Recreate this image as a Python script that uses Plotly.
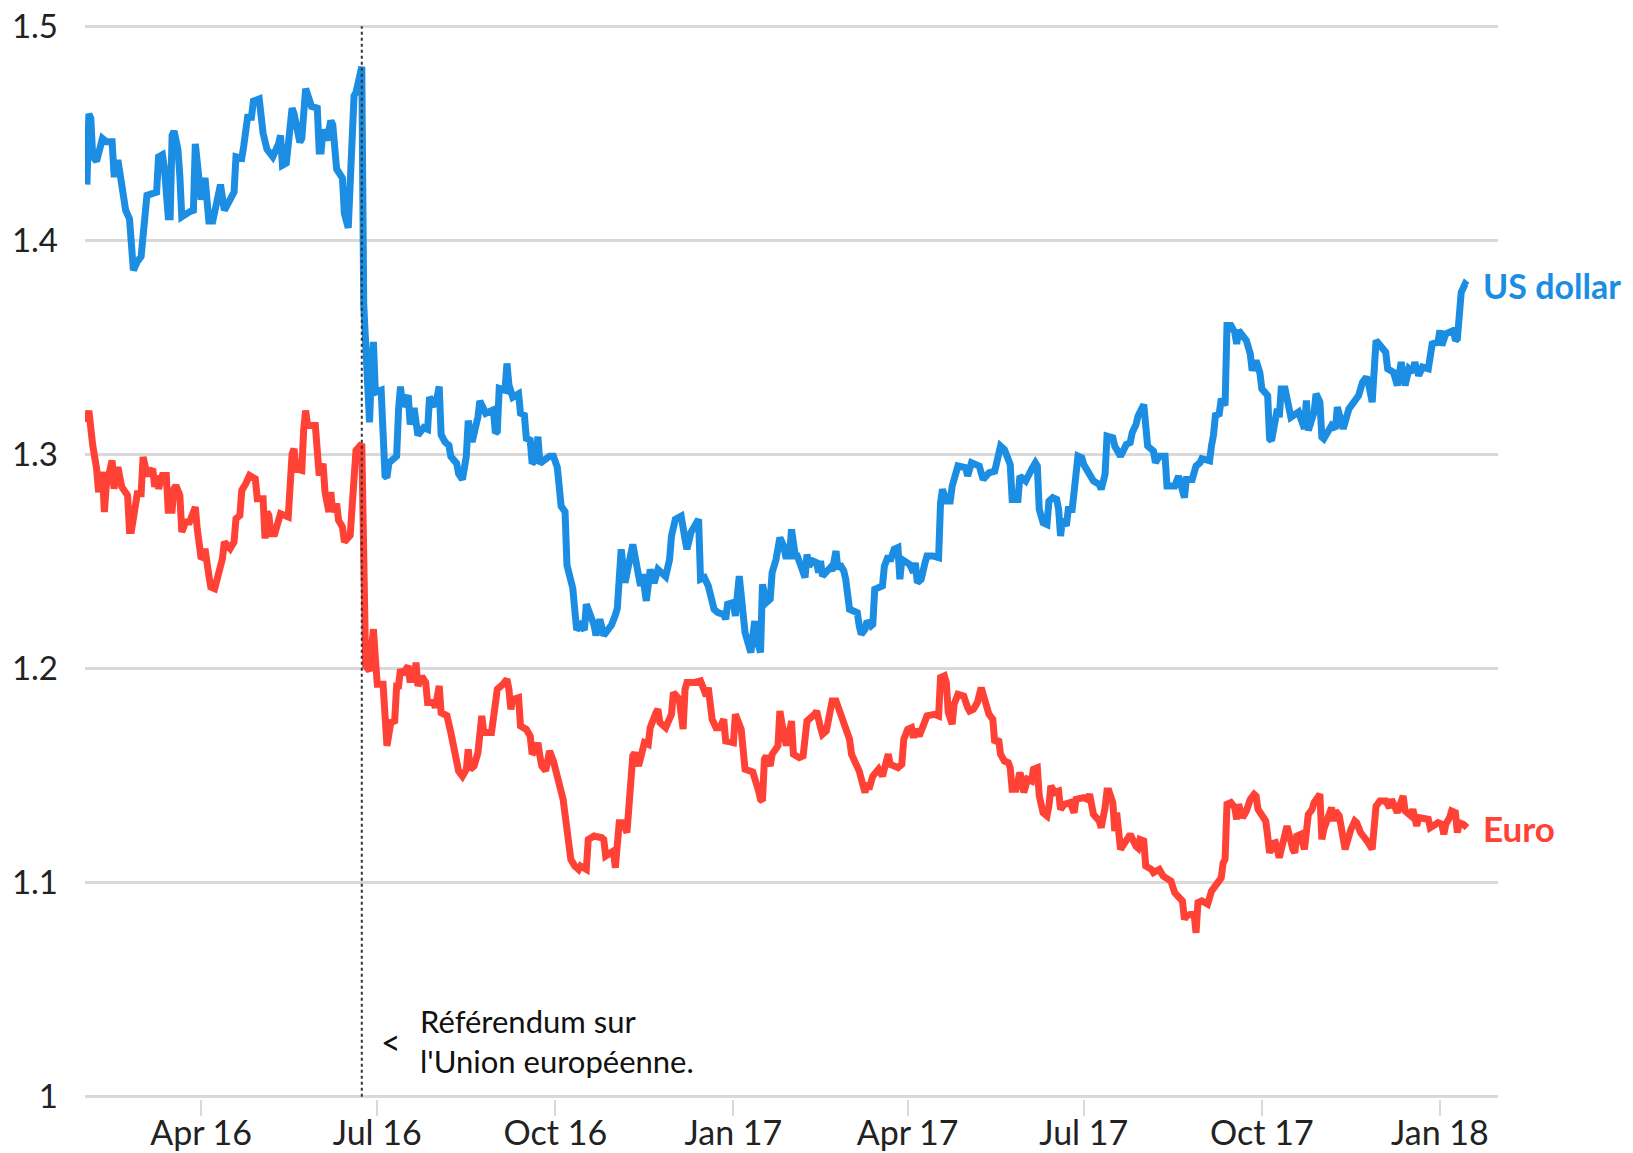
import plotly.graph_objects as go

usd_dates = [
"2016-02-02","2016-02-03","2016-02-04","2016-02-05","2016-02-07","2016-02-10","2016-02-12","2016-02-15","2016-02-16","2016-02-17",
"2016-02-18","2016-02-20","2016-02-22","2016-02-24","2016-02-25","2016-02-26","2016-02-28","2016-03-01","2016-03-04","2016-03-08",
"2016-03-09","2016-03-10","2016-03-12","2016-03-13","2016-03-15","2016-03-16","2016-03-17","2016-03-18","2016-03-20","2016-03-21",
"2016-03-22","2016-03-26","2016-03-28","2016-03-29","2016-04-01","2016-04-03","2016-04-05","2016-04-07","2016-04-09","2016-04-11",
"2016-04-13","2016-04-16","2016-04-18","2016-04-19","2016-04-22","2016-04-23","2016-04-25","2016-04-27","2016-04-28","2016-05-01",
"2016-05-03","2016-05-05","2016-05-08","2016-05-11","2016-05-12","2016-05-13","2016-05-15","2016-05-18","2016-05-19","2016-05-22",
"2016-05-23","2016-05-25","2016-05-28","2016-05-31","2016-06-01","2016-06-02","2016-06-03","2016-06-05","2016-06-07","2016-06-08",
"2016-06-10","2016-06-13","2016-06-14","2016-06-16","2016-06-17","2016-06-19","2016-06-20","2016-06-22","2016-06-23","2016-06-24",
"2016-06-26","2016-06-27","2016-06-28","2016-06-29","2016-06-30","2016-07-03","2016-07-05","2016-07-06","2016-07-07","2016-07-11",
"2016-07-12","2016-07-13","2016-07-14","2016-07-17","2016-07-18","2016-07-20","2016-07-22","2016-07-25","2016-07-27","2016-07-28",
"2016-07-31","2016-08-02","2016-08-03","2016-08-05","2016-08-07","2016-08-08","2016-08-11","2016-08-12","2016-08-14","2016-08-16",
"2016-08-17","2016-08-19","2016-08-22","2016-08-23","2016-08-26","2016-08-30","2016-08-31","2016-09-01","2016-09-02","2016-09-05",
"2016-09-06","2016-09-07","2016-09-09","2016-09-12","2016-09-13","2016-09-15","2016-09-16","2016-09-18","2016-09-19","2016-09-21",
"2016-09-22","2016-09-23","2016-09-28","2016-09-30","2016-10-02","2016-10-04","2016-10-06","2016-10-07","2016-10-10","2016-10-12",
"2016-10-14","2016-10-16","2016-10-17","2016-10-19","2016-10-21","2016-10-22","2016-10-24","2016-10-26","2016-10-28","2016-10-30",
"2016-11-01","2016-11-02","2016-11-04","2016-11-06","2016-11-10","2016-11-14","2016-11-15","2016-11-17","2016-11-19","2016-11-21",
"2016-11-23","2016-11-27","2016-11-29","2016-11-30","2016-12-02","2016-12-05","2016-12-07","2016-12-08","2016-12-10","2016-12-12",
"2016-12-14","2016-12-15","2016-12-17","2016-12-19","2016-12-22","2016-12-24","2016-12-27","2016-12-28","2016-12-29","2017-01-01",
"2017-01-02","2017-01-04","2017-01-05","2017-01-07","2017-01-08","2017-01-10","2017-01-12","2017-01-13","2017-01-15","2017-01-16",
"2017-01-18","2017-01-20","2017-01-21","2017-01-23","2017-01-25","2017-01-27","2017-01-28","2017-01-30","2017-01-31","2017-02-02",
"2017-02-03","2017-02-05","2017-02-07","2017-02-08","2017-02-09","2017-02-11","2017-02-13","2017-02-14","2017-02-15","2017-02-16",
"2017-02-18","2017-02-20","2017-02-21","2017-02-23","2017-02-24","2017-02-25","2017-02-27","2017-02-28","2017-03-02","2017-03-06",
"2017-03-07","2017-03-08","2017-03-10","2017-03-11","2017-03-13","2017-03-14","2017-03-15","2017-03-19","2017-03-20","2017-03-22",
"2017-03-23","2017-03-25","2017-03-27","2017-03-28","2017-03-29","2017-04-02","2017-04-04","2017-04-05","2017-04-06","2017-04-08",
"2017-04-10","2017-04-11","2017-04-14","2017-04-17","2017-04-18","2017-04-19","2017-04-21","2017-04-23","2017-04-24","2017-04-27",
"2017-05-01","2017-05-02","2017-05-04","2017-05-08","2017-05-10","2017-05-13","2017-05-16","2017-05-18","2017-05-19","2017-05-21",
"2017-05-23","2017-05-24","2017-05-25","2017-05-28","2017-05-29","2017-06-01","2017-06-04","2017-06-06","2017-06-07","2017-06-08",
"2017-06-10","2017-06-12","2017-06-13","2017-06-15","2017-06-17","2017-06-18","2017-06-19","2017-06-20","2017-06-22","2017-06-23",
"2017-06-25","2017-06-26","2017-06-28","2017-06-30","2017-07-01","2017-07-03","2017-07-06","2017-07-09","2017-07-10","2017-07-12",
"2017-07-13","2017-07-16","2017-07-17","2017-07-20","2017-07-23","2017-07-25","2017-07-26","2017-07-28","2017-07-29","2017-08-01",
"2017-08-02","2017-08-03","2017-08-06","2017-08-07","2017-08-09","2017-08-12","2017-08-13","2017-08-17","2017-08-19","2017-08-21",
"2017-08-22","2017-08-23","2017-08-26","2017-08-28","2017-08-30","2017-08-31","2017-09-04","2017-09-05","2017-09-06","2017-09-07",
"2017-09-09","2017-09-10","2017-09-12","2017-09-13","2017-09-15","2017-09-17","2017-09-18","2017-09-19","2017-09-23","2017-09-25",
"2017-09-26","2017-09-28","2017-09-30","2017-10-01","2017-10-04","2017-10-05","2017-10-06","2017-10-09","2017-10-10","2017-10-11",
"2017-10-13","2017-10-16","2017-10-18","2017-10-20","2017-10-23","2017-10-24","2017-10-25","2017-10-28","2017-10-29","2017-10-31",
"2017-11-01","2017-11-02","2017-11-06","2017-11-08","2017-11-09","2017-11-10","2017-11-12","2017-11-15","2017-11-19","2017-11-20",
"2017-11-22","2017-11-24","2017-11-25","2017-11-27","2017-11-29","2017-12-02","2017-12-04","2017-12-05","2017-12-08","2017-12-10",
"2017-12-12","2017-12-14","2017-12-16","2017-12-18","2017-12-19","2017-12-21","2017-12-23","2017-12-26","2017-12-28","2017-12-31",
"2018-01-01","2018-01-02","2018-01-04","2018-01-08","2018-01-09","2018-01-10","2018-01-11","2018-01-12","2018-01-14","2018-01-15",
]
usd_values = [
1.426,1.459,1.457,1.439,1.437,1.4475,1.446,1.446,1.431,1.431,
1.4375,1.4225,1.414,1.41,1.394,1.386,1.39,1.3925,1.421,1.4217,
1.4225,1.439,1.44,1.434,1.411,1.411,1.449,1.451,1.4425,1.43,
1.411,1.4133,1.414,1.445,1.419,1.4292,1.409,1.409,1.419,1.426,
1.414,1.4195,1.4225,1.439,1.4383,1.444,1.4575,1.4575,1.465,1.466,
1.45,1.4425,1.439,1.445,1.449,1.435,1.436,1.4617,1.459,1.4458,
1.4475,1.4708,1.4625,1.4617,1.4417,1.4417,1.4517,1.4467,1.4558,1.454,
1.4333,1.429,1.4125,1.4058,1.4233,1.4675,1.469,1.48,1.481,1.37,
1.3225,1.315,1.339,1.3525,1.329,1.33,1.29,1.2892,1.296,1.2992,
1.321,1.3317,1.3225,1.3275,1.314,1.3217,1.309,1.3125,1.3117,1.3267,
1.3225,1.3317,1.3092,1.3058,1.3042,1.299,1.2958,1.291,1.2883,1.2992,
1.3158,1.3058,1.3175,1.325,1.3192,1.3208,1.31,1.3108,1.3308,1.33,
1.3425,1.3325,1.3267,1.3283,1.3192,1.3183,1.3075,1.3067,1.2958,1.2975,
1.3083,1.2958,1.2992,1.2992,1.294,1.2758,1.2733,1.2483,1.2375,1.218,
1.2203,1.218,1.23,1.2255,1.2203,1.2155,1.223,1.2155,1.218,1.2203,
1.225,1.228,1.2557,1.2401,1.258,1.2386,1.244,1.2316,1.2463,1.24,
1.2463,1.243,1.251,1.2619,1.2697,1.2712,1.2603,1.2557,1.2635,1.2666,
1.2697,1.2417,1.2425,1.2386,1.2277,1.2261,1.2253,1.223,1.23,1.2308,
1.2246,1.2432,1.2308,1.2168,1.2137,1.2075,1.2222,1.2137,1.2075,1.2393,
1.2308,1.2324,1.2448,1.251,1.2611,1.2572,1.2526,1.2526,1.265,1.2526,
1.2526,1.2463,1.2425,1.2533,1.2479,1.2502,1.2494,1.2448,1.2502,1.2432,
1.2456,1.2471,1.2456,1.2549,1.2463,1.2487,1.2456,1.2417,1.2277,1.2261,
1.2199,1.216,1.2184,1.2222,1.2199,1.2207,1.237,1.2386,1.2479,1.2526,
1.2502,1.2557,1.2565,1.2417,1.251,1.2487,1.2448,1.2494,1.2401,1.2417,
1.2495,1.2526,1.2526,1.2518,1.2774,1.2837,1.2782,1.2782,1.2852,1.2946,
1.2938,1.2899,1.2961,1.2946,1.2883,1.2914,1.2922,1.3023,1.3039,1.3023,
1.2961,1.2953,1.279,1.279,1.2899,1.2876,1.293,1.2961,1.2946,1.2743,
1.2681,1.2673,1.2782,1.2798,1.279,1.2743,1.2619,1.2697,1.2666,1.2743,
1.2743,1.2837,1.2992,1.2984,1.2953,1.2922,1.2876,1.286,1.2837,1.2907,
1.3086,1.3078,1.3039,1.2992,1.3047,1.3055,1.3101,1.314,1.3179,1.3233,
1.3163,1.3039,1.3016,1.2961,1.2992,1.2992,1.2852,1.2852,1.2899,1.2837,
1.2798,1.2883,1.2883,1.2946,1.2961,1.298,1.297,1.3042,1.3089,1.3182,
1.319,1.326,1.3229,1.3602,1.3602,1.3571,1.3516,1.3579,1.3532,1.347,
1.3392,1.3439,1.338,1.3306,1.3275,1.3073,1.3065,1.3213,1.3174,1.3306,
1.3306,1.3174,1.319,1.3198,1.312,1.3252,1.3112,1.3198,1.3283,1.3244,
1.3081,1.3073,1.3135,1.312,1.3221,1.319,1.312,1.3213,1.326,1.3275,
1.3337,1.3361,1.3337,1.3244,1.3532,1.3493,1.3477,1.34,1.3384,1.3322,
1.3431,1.3322,1.34,1.3384,1.3431,1.3369,1.3408,1.34,1.3516,1.3524,
1.3579,1.3509,1.3563,1.3579,1.3532,1.354,1.3687,1.3757,1.3796,1.3788,
]

eur_dates = [
"2016-02-02","2016-02-03","2016-02-05","2016-02-07","2016-02-08","2016-02-10","2016-02-11","2016-02-12","2016-02-15","2016-02-16",
"2016-02-18","2016-02-20","2016-02-23","2016-02-24","2016-02-25","2016-02-27","2016-02-28","2016-03-01","2016-03-02","2016-03-04",
"2016-03-05","2016-03-07","2016-03-08","2016-03-09","2016-03-10","2016-03-12","2016-03-14","2016-03-15","2016-03-17","2016-03-18",
"2016-03-19","2016-03-21","2016-03-22","2016-03-24","2016-03-26","2016-03-28","2016-03-29","2016-03-30","2016-04-01","2016-04-02",
"2016-04-03","2016-04-05","2016-04-06","2016-04-08","2016-04-10","2016-04-12","2016-04-13","2016-04-16","2016-04-18","2016-04-19",
"2016-04-21","2016-04-22","2016-04-24","2016-04-26","2016-04-29","2016-04-30","2016-05-03","2016-05-04","2016-05-05","2016-05-06",
"2016-05-07","2016-05-09","2016-05-12","2016-05-16","2016-05-18","2016-05-19","2016-05-20","2016-05-23","2016-05-24","2016-05-25",
"2016-05-26","2016-05-30","2016-06-01","2016-06-03","2016-06-04","2016-06-06","2016-06-07","2016-06-08","2016-06-10","2016-06-11",
"2016-06-13","2016-06-14","2016-06-17","2016-06-18","2016-06-20","2016-06-23","2016-06-24","2016-06-25","2016-06-27","2016-06-29",
"2016-06-30","2016-07-01","2016-07-04","2016-07-05","2016-07-06","2016-07-08","2016-07-10","2016-07-11","2016-07-12","2016-07-13",
"2016-07-14","2016-07-17","2016-07-18","2016-07-19","2016-07-20","2016-07-21","2016-07-22","2016-07-24","2016-07-26","2016-07-27",
"2016-07-30","2016-07-31","2016-08-02","2016-08-03","2016-08-06","2016-08-08","2016-08-10","2016-08-12","2016-08-14","2016-08-16",
"2016-08-17","2016-08-18","2016-08-20","2016-08-22","2016-08-24","2016-08-25","2016-08-29","2016-08-30","2016-09-01","2016-09-04",
"2016-09-06","2016-09-07","2016-09-08","2016-09-09","2016-09-12","2016-09-13","2016-09-16","2016-09-18","2016-09-19","2016-09-21",
"2016-09-22","2016-09-23","2016-09-24","2016-09-26","2016-09-28","2016-09-30","2016-10-01","2016-10-03","2016-10-04","2016-10-05",
"2016-10-07","2016-10-08","2016-10-09","2016-10-11","2016-10-13","2016-10-14","2016-10-17","2016-10-18","2016-10-21","2016-10-25",
"2016-10-26","2016-10-27","2016-10-30","2016-10-31","2016-11-01","2016-11-02","2016-11-03","2016-11-05","2016-11-07","2016-11-10",
"2016-11-11","2016-11-13","2016-11-15","2016-11-16","2016-11-18","2016-11-19","2016-11-22","2016-11-23","2016-11-24","2016-11-27",
"2016-11-30","2016-12-01","2016-12-04","2016-12-06","2016-12-07","2016-12-08","2016-12-12","2016-12-15","2016-12-18","2016-12-19",
"2016-12-21","2016-12-23","2016-12-25","2016-12-27","2016-12-28","2017-01-01","2017-01-02","2017-01-05","2017-01-06","2017-01-07",
"2017-01-11","2017-01-12","2017-01-14","2017-01-15","2017-01-16","2017-01-17","2017-01-18","2017-01-20","2017-01-21","2017-01-24",
"2017-01-25","2017-01-26","2017-01-28","2017-01-29","2017-01-31","2017-02-01","2017-02-04","2017-02-06","2017-02-07","2017-02-08",
"2017-02-12","2017-02-13","2017-02-15","2017-02-16","2017-02-18","2017-02-20","2017-02-21","2017-02-23","2017-02-25","2017-02-26",
"2017-02-28","2017-03-02","2017-03-03","2017-03-06","2017-03-07","2017-03-09","2017-03-10","2017-03-11","2017-03-12","2017-03-14",
"2017-03-17","2017-03-19","2017-03-21","2017-03-22","2017-03-23","2017-03-27","2017-03-29","2017-03-30","2017-04-01","2017-04-03",
"2017-04-04","2017-04-05","2017-04-07","2017-04-08","2017-04-11","2017-04-15","2017-04-17","2017-04-18","2017-04-20","2017-04-21",
"2017-04-22","2017-04-24","2017-04-25","2017-04-27","2017-04-30","2017-05-02","2017-05-03","2017-05-05","2017-05-07","2017-05-09",
"2017-05-10","2017-05-12","2017-05-13","2017-05-15","2017-05-16","2017-05-18","2017-05-19","2017-05-21","2017-05-23","2017-05-24",
"2017-05-25","2017-05-27","2017-05-29","2017-05-30","2017-05-31","2017-06-02","2017-06-04","2017-06-05","2017-06-07","2017-06-08",
"2017-06-10","2017-06-12","2017-06-13","2017-06-14","2017-06-16","2017-06-18","2017-06-19","2017-06-21","2017-06-24","2017-06-26",
"2017-06-27","2017-07-01","2017-07-03","2017-07-04","2017-07-06","2017-07-09","2017-07-10","2017-07-12","2017-07-13","2017-07-14",
"2017-07-16","2017-07-17","2017-07-18","2017-07-20","2017-07-23","2017-07-25","2017-07-28","2017-07-29","2017-07-30","2017-08-01",
"2017-08-02","2017-08-05","2017-08-06","2017-08-09","2017-08-11","2017-08-15","2017-08-17","2017-08-19","2017-08-21","2017-08-22",
"2017-08-23","2017-08-25","2017-08-27","2017-08-28","2017-08-29","2017-08-31","2017-09-03","2017-09-05","2017-09-07","2017-09-10",
"2017-09-11","2017-09-12","2017-09-13","2017-09-15","2017-09-17","2017-09-18","2017-09-19","2017-09-21","2017-09-23","2017-09-25",
"2017-09-27","2017-09-28","2017-09-29","2017-10-01","2017-10-03","2017-10-04","2017-10-05","2017-10-07","2017-10-08","2017-10-10",
"2017-10-11","2017-10-13","2017-10-14","2017-10-17","2017-10-18","2017-10-19","2017-10-21","2017-10-23","2017-10-24","2017-10-25",
"2017-10-27","2017-10-28","2017-10-31","2017-11-01","2017-11-02","2017-11-04","2017-11-06","2017-11-07","2017-11-08","2017-11-10",
"2017-11-12","2017-11-13","2017-11-16","2017-11-18","2017-11-19","2017-11-21","2017-11-25","2017-11-27","2017-11-29","2017-12-01",
"2017-12-04","2017-12-06","2017-12-07","2017-12-09","2017-12-10","2017-12-13","2017-12-14","2017-12-17","2017-12-18","2017-12-20",
"2017-12-21","2017-12-26","2017-12-27","2017-12-31","2018-01-02","2018-01-03","2018-01-04","2018-01-06","2018-01-07","2018-01-09",
"2018-01-10","2018-01-11","2018-01-13","2018-01-15",
]
eur_values = [
1.315,1.3205,1.3042,1.2933,1.2824,1.2918,1.2731,1.2855,1.2972,1.284,
1.2941,1.2848,1.2809,1.2645,1.2645,1.2747,1.2816,1.2816,1.2988,1.291,
1.291,1.2933,1.2848,1.2902,1.284,1.2902,1.2902,1.2739,1.2739,1.284,
1.2855,1.2809,1.2638,1.2684,1.2684,1.273,1.2754,1.2652,1.2513,1.252,
1.256,1.2435,1.2381,1.2373,1.2451,1.2513,1.2591,1.256,1.2591,1.27,
1.2715,1.2832,1.2863,1.2902,1.2886,1.2793,1.2793,1.2607,1.2731,1.2715,
1.263,1.263,1.2723,1.2708,1.3003,1.3026,1.2933,1.2925,1.312,1.3205,
1.3135,1.3135,1.2902,1.2957,1.2824,1.2731,1.2824,1.2731,1.277,1.2692,
1.2661,1.2591,1.2622,1.279,1.3019,1.305,1.2137,1.2012,1.1989,1.2184,
1.205,1.1927,1.1927,1.1748,1.1639,1.1748,1.1756,1.1919,1.1919,1.1997,
1.1974,1.2012,1.1935,1.2005,1.1935,1.2028,1.1919,1.1963,1.1935,1.1841,
1.1841,1.1818,1.1919,1.1794,1.178,1.1701,1.1592,1.1522,1.1498,1.1529,
1.1623,1.1529,1.1545,1.1607,1.1779,1.1701,1.1701,1.1763,1.1903,1.1927,
1.195,1.1903,1.181,1.1856,1.1864,1.1732,1.1716,1.1685,1.16,1.1623,
1.1654,1.1592,1.1545,1.1522,1.1615,1.1568,1.1529,1.1444,1.1428,1.1389,
1.1249,1.114,1.1109,1.1078,1.1062,1.1078,1.1062,1.1202,1.1218,1.121,
1.1202,1.1125,1.114,1.1148,1.107,1.1187,1.128,1.128,1.1234,1.1592,
1.1607,1.1545,1.1623,1.1654,1.1646,1.1724,1.1794,1.181,1.1748,1.1724,
1.1787,1.1888,1.1857,1.1717,1.1903,1.1935,1.1935,1.1942,1.1872,1.1911,
1.1763,1.1724,1.1724,1.1763,1.1662,1.1654,1.1787,1.1716,1.1623,1.153,
1.1517,1.1475,1.1428,1.1389,1.1382,1.1576,1.1592,1.1545,1.16,1.1639,
1.1802,1.1748,1.1654,1.1654,1.1755,1.16,1.1584,1.1592,1.1724,1.1755,
1.1787,1.1802,1.1724,1.1693,1.1709,1.1818,1.1849,1.1849,1.1802,1.1763,
1.1724,1.167,1.16,1.1537,1.1521,1.1452,1.1421,1.1467,1.1436,1.1498,
1.153,1.1498,1.1553,1.16,1.1553,1.1537,1.1553,1.167,1.1716,1.1724,
1.1677,1.1716,1.1685,1.1704,1.1779,1.1786,1.1779,1.1958,1.1966,1.1935,
1.1794,1.174,1.1833,1.188,1.1872,1.1818,1.1802,1.181,1.1841,1.1911,
1.1872,1.1802,1.1787,1.1763,1.1654,1.167,1.16,1.1568,1.1561,1.1537,
1.1436,1.1436,1.1514,1.1483,1.1421,1.1483,1.1475,1.153,1.1537,1.1405,
1.1327,1.1312,1.1358,1.1452,1.1421,1.1428,1.1343,1.1366,1.1374,1.1327,
1.1389,1.1397,1.1389,1.1413,1.1319,1.1288,1.1257,1.1351,1.1428,1.1428,
1.1374,1.1241,1.1327,1.1156,1.1202,1.1226,1.117,1.1162,1.1202,1.1195,
1.1078,1.1062,1.1047,1.1062,1.1031,1.1008,1.0953,1.093,1.0914,1.0829,
1.0845,1.0852,1.0852,1.0766,1.0907,1.0915,1.09,1.0961,1.0992,1.1023,
1.1093,1.1109,1.1366,1.1374,1.1351,1.1296,1.1366,1.1304,1.1335,1.1389,
1.1413,1.1405,1.1343,1.132,1.1288,1.1218,1.114,1.1184,1.1187,1.1117,
1.1156,1.1249,1.1265,1.1156,1.114,1.1218,1.1226,1.1156,1.1226,1.1319,
1.1343,1.1374,1.1413,1.1202,1.1249,1.1312,1.1351,1.1288,1.1335,1.1312,
1.121,1.1156,1.1249,1.1288,1.128,1.1234,1.1187,1.1156,1.1358,1.1382,
1.1382,1.135,1.1389,1.1343,1.1327,1.1405,1.1335,1.1312,1.1343,1.1265,
1.1304,1.1296,1.1257,1.128,1.1273,1.1226,1.1273,1.1304,1.1335,1.1327,
1.1234,1.128,1.1273,1.1257,
]

x_tick_dates = ["2016-04-01","2016-07-01","2016-10-01","2017-01-01","2017-04-01","2017-07-01","2017-10-01","2018-01-01"]
x_tick_labels = ["Apr 16","Jul 16","Oct 16","Jan 17","Apr 17","Jul 17","Oct 17","Jan 18"]
y_tick_values = [1.0, 1.1, 1.2, 1.3, 1.4, 1.5]
y_tick_labels = ["1", "1.1", "1.2", "1.3", "1.4", "1.5"]
x_range = ["2016-02-01", "2018-01-31"]
y_range = [0.999, 1.501]
referendum_date = "2016-06-23"
referendum_text = "Référendum sur<br>l'Union européenne."
series_names = ["US dollar", "Euro"]

BLUE = "#1b8de3"
RED = "#ff4136"
FONT = "Lato, 'Open Sans', sans-serif"

fig = go.Figure()
fig.add_trace(go.Scatter(x=usd_dates, y=usd_values, mode="lines", name=series_names[0],
                         line=dict(color=BLUE, width=7), hoverinfo="skip"))
fig.add_trace(go.Scatter(x=eur_dates, y=eur_values, mode="lines", name=series_names[1],
                         line=dict(color=RED, width=7), hoverinfo="skip"))

fig.add_shape(type="line", xref="x", yref="y", x0=referendum_date, x1=referendum_date,
              y0=1.0, y1=1.5, line=dict(color="#333333", width=2, dash="dot"), layer="above")

fig.add_annotation(x=usd_dates[-1], y=usd_values[-1], text="<b>%s</b>" % series_names[0],
                   showarrow=False, xanchor="left", yanchor="middle", xshift=14,
                   font=dict(family=FONT, size=34, color=BLUE))
fig.add_annotation(x=eur_dates[-1], y=eur_values[-1], text="<b>%s</b>" % series_names[1],
                   showarrow=False, xanchor="left", yanchor="middle", xshift=14,
                   font=dict(family=FONT, size=35, color=RED))
fig.add_annotation(x=referendum_date, y=1.026, text=referendum_text, showarrow=False,
                   xanchor="left", yanchor="middle", align="left", xshift=56,
                   font=dict(family=FONT, size=31, color="#111111"))
fig.add_annotation(x=referendum_date, y=1.026, text="&lt;", showarrow=False,
                   xanchor="center", yanchor="middle", xshift=29,
                   font=dict(family=FONT, size=34, color="#111111"))

fig.update_layout(
    width=1633, height=1153,
    margin=dict(l=85, r=135, t=24, b=54, pad=0),
    plot_bgcolor="white", paper_bgcolor="white",
    showlegend=False,
    font=dict(family=FONT, size=33, color="#222222"),
)
fig.update_xaxes(type="date", range=x_range, tickvals=x_tick_dates, ticktext=x_tick_labels,
                 showgrid=False, zeroline=False, showline=False, automargin=False,
                 ticklabeloverflow="allow", ticklabelstandoff=-12,
                 ticks="outside", ticklen=16, tickwidth=2, tickcolor="#d9d9d9",
                 tickfont=dict(family=FONT, size=34, color="#222222"))
fig.update_yaxes(range=y_range, tickvals=y_tick_values, ticktext=y_tick_labels, automargin=False,
                 ticklabeloverflow="allow",
                 showgrid=True, gridcolor="#d9d9d9", gridwidth=3, zeroline=False, showline=False,
                 ticks="", ticklabelstandoff=26,
                 tickfont=dict(family=FONT, size=33, color="#222222"))

fig.write_html("out.html", config={"displayModeBar": False},
               post_script="document.body.style.margin='0px';")
